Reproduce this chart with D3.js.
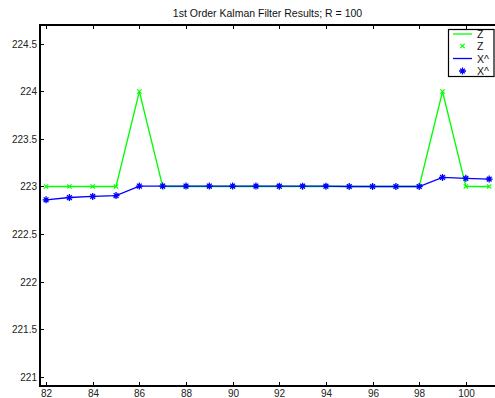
<!DOCTYPE html>
<html><head><meta charset="utf-8">
<script src="https://cdn.jsdelivr.net/npm/d3@7"></script>
<style>
body{margin:0;background:#fff;}
svg{display:block;font-family:"Liberation Sans",Arial,sans-serif;}
</style></head>
<body><svg id="c" width="495" height="398"></svg>
<script>
const steps = [82,83,84,85,86,87,88,89,90,91,92,93,94,95,96,97,98,99,100,101];
const zMeas = [223,223,223,223,224,223,223,223,223,223,223,223,223,223,223,223,223,224,223,223];
const xHat  = [222.86,222.884,222.895,222.905,223.005,223.005,223.005,223.005,223.005,223.005,223.003,223.003,223.003,223.0,223.0,223.0,223.0,223.095,223.086,223.078];
const xTicks = [82,84,86,88,90,92,94,96,98,100];
const yTicks = [221,221.5,222,222.5,223,223.5,224,224.5];
const legendLabels = ["Z","Z","X^","X^"];
const titleText = "1st Order Kalman Filter Results; R = 100";

const svg = d3.select("#c");
const L=40, R=495, T=25, B=386;
const x = d3.scaleLinear().domain([81.74,101.25]).range([L,R]);
const y = d3.scaleLinear().domain([220.9,224.7]).range([B,T]);
const green = "#00ff00", blue = "#0000ff";

svg.append("text").attr("x",(L+R)/2).attr("y",17).attr("text-anchor","middle")
  .attr("font-size","10.5px").attr("fill","#111").text(titleText);

const clip = svg.append("defs").append("clipPath").attr("id","pc")
  .append("rect").attr("x",L).attr("y",T).attr("width",R-L).attr("height",B-T);

const g = svg.append("g").attr("clip-path","url(#pc)");
const zData = steps.map((s,i)=>({s,v:zMeas[i]}));
const xData = steps.map((s,i)=>({s,v:xHat[i]}));
const line = d3.line().x(d=>x(d.s)).y(d=>y(d.v));

g.append("path").datum(zData).attr("d",line).attr("fill","none")
  .attr("stroke",green).attr("stroke-width",1.3);
g.append("path").datum(xData).attr("d",line).attr("fill","none")
  .attr("stroke",blue).attr("stroke-width",1.3);

const xMark = d3.symbol().type(d3.symbolX).size(14);
g.selectAll(".zm").data(zData).join("path")
  .attr("transform",d=>`translate(${x(d.s)},${y(d.v)})`)
  .attr("d",xMark).attr("fill","none").attr("stroke",green).attr("stroke-width",1.2);

function star(sel){
  sel.append("path").attr("d","M-3.5,0H3.5M0,-3.5V3.5M-2.4,-2.4L2.4,2.4M-2.4,2.4L2.4,-2.4")
    .attr("stroke",blue).attr("stroke-width",1.3).attr("fill","none");
}
g.selectAll(".xm").data(xData).join("g")
  .attr("transform",d=>`translate(${x(d.s)},${y(d.v)})`).call(star);

// axes
const ax = svg.append("g").attr("font-size","10px").attr("fill","#222");
const tl = 4;
xTicks.forEach(t=>{
  const px = Math.round(x(t))+0.5;
  ax.append("line").attr("x1",px).attr("x2",px).attr("y1",B).attr("y2",B-tl).attr("stroke","#000");
  ax.append("line").attr("x1",px).attr("x2",px).attr("y1",T).attr("y2",T+tl).attr("stroke","#000");
  ax.append("text").attr("x",px).attr("y",B+11).attr("text-anchor","middle").text(d3.format("d")(t));
});
yTicks.forEach(t=>{
  const py = Math.round(y(t))+0.5;
  ax.append("line").attr("x1",L).attr("x2",L+tl).attr("y1",py).attr("y2",py).attr("stroke","#000");
  ax.append("text").attr("x",L-3).attr("y",py+3.5).attr("text-anchor","end").text(t);
});
ax.append("line").attr("x1",L).attr("x2",L).attr("y1",T-1).attr("y2",B+1).attr("stroke","#000").attr("stroke-width",2);
ax.append("line").attr("x1",L-1).attr("x2",R).attr("y1",B).attr("y2",B).attr("stroke","#000").attr("stroke-width",2);
ax.append("line").attr("x1",L-1).attr("x2",R).attr("y1",T).attr("y2",T).attr("stroke","#000").attr("stroke-width",2);

// legend
const lg = svg.append("g");
lg.append("rect").attr("x",448.5).attr("y",29.5).attr("width",45.5).attr("height",47)
  .attr("fill","#fff").attr("stroke","#000").attr("stroke-width",1.2);
const rowsY = [34,46,58.5,71];
legendLabels.forEach((lab,i)=>{
  const yy = rowsY[i];
  if(i===0) lg.append("line").attr("x1",453).attr("x2",472).attr("y1",yy).attr("y2",yy).attr("stroke",green).attr("stroke-width",1.3);
  if(i===1) lg.append("path").attr("transform",`translate(462.5,${yy})`).attr("d",xMark).attr("fill","none").attr("stroke",green).attr("stroke-width",1.2);
  if(i===2) lg.append("line").attr("x1",453).attr("x2",472).attr("y1",yy).attr("y2",yy).attr("stroke",blue).attr("stroke-width",1.3);
  if(i===3) lg.append("g").attr("transform",`translate(462.5,${yy})`).call(star);
  lg.append("text").attr("x",477).attr("y",yy+4).attr("font-size","10.5px").attr("fill","#111").text(lab);
});
</script></body></html>
